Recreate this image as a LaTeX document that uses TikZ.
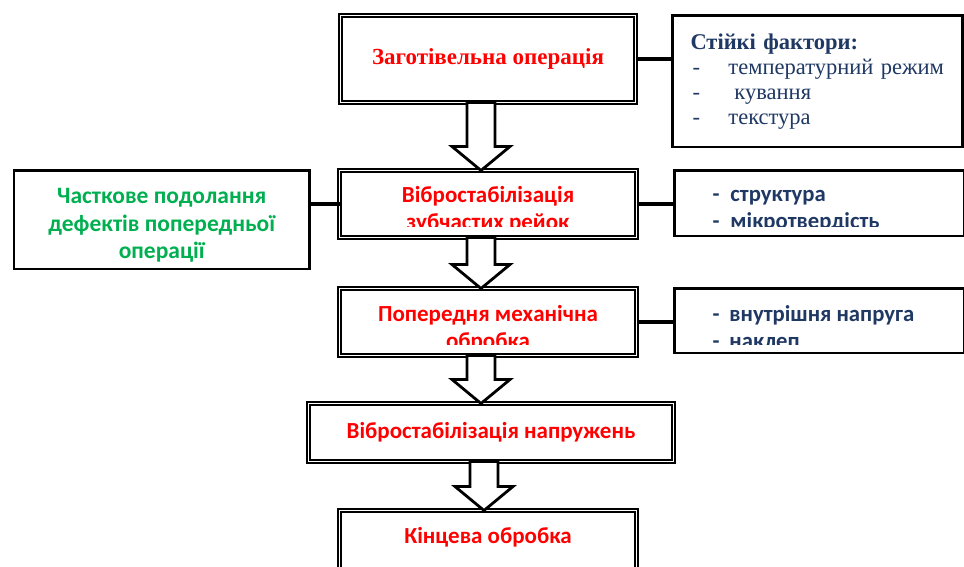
\documentclass[tikz,border=0pt]{standalone}
\usepackage{fontspec}
\usepackage{xcolor}
\usepackage{tikz}
\usetikzlibrary{positioning, calc}
\newfontfamily\serifbody{Liberation Serif}
\newfontfamily\sansbody{Carlito}
\definecolor{opred}{HTML}{FF0000}
\definecolor{factblue}{HTML}{1F3864}
\definecolor{fixgreen}{HTML}{00B050}

\begin{document}
\begin{tikzpicture}[
        x=1pt, y=1pt,
        every node/.style={align=center, outer sep=0pt},
        opbox/.style={
            rectangle, draw=black, double, double distance=1.8pt,
            line width=1.6pt, fill=white,
            minimum width=297pt, minimum height=67pt
        },
        sidebox/.style={
            rectangle, draw=black, line width=2.5pt, fill=white,
            minimum width=290pt
        },
        optext/.style={text=opred, font=\sansbody\bfseries\fontsize{23}{27}\selectfont},
        facttext/.style={
            text=factblue, inner sep=0pt, align=left,
            font=\sansbody\bfseries\fontsize{22.7}{27}\selectfont
        },
        link/.style={line width=3.5pt},
        blockarr/.style={
            draw=black, line width=2.8pt, fill=white, line join=miter,
            to path={($(\tikztostart -| \tikztotarget)+(-21,0)$) -- ($(\tikztotarget)+(-21,24)$)
                -- ($(\tikztotarget)+(-36,24)$) -- ($(\tikztotarget)+(-7,0)$)
                -- ($(\tikztotarget)+(22,24)$) -- ($(\tikztotarget)+(7,24)$)
                -- ($(\tikztostart -| \tikztotarget)+(7,0)$) -- cycle}
        },
    ]

    \useasboundingbox (0,0) rectangle (964,567);
    \clip (0,0) rectangle (964,567);

    % main column
    \node (zag)   [opbox, minimum width=295pt, minimum height=87pt, text=opred,
                   font=\serifbody\bfseries\fontsize{23}{25}\selectfont] at (488,508)
                  {Заготівельна операція};
    \node (vibro) [opbox, below=68pt of zag] {};
    \node (mech)  [opbox, below=51pt of vibro] {};
    \node (stab)  [opbox, optext, minimum width=365pt, minimum height=58pt,
                   below=48pt of mech, xshift=3pt] {Вібростабілізація напружень};
    \node (fin)   [opbox, below=49pt of stab, xshift=-3pt] {};
    \node (fintxt) [optext] at ($(fin.north)+(0,-26.5)$) {Кінцева обробка};

    % side boxes
    \node (fac1)  [sidebox, minimum height=131.5pt, text width=254pt, inner xsep=18pt,
                   align=left, text=factblue, font=\serifbody\fontsize{22.5}{25}\selectfont,
                   right=37pt of zag.north east, anchor=north west]
                  {{\bfseries Стійкі фактори:}\\
                   \hspace*{2pt}\makebox[36pt][l]{-}температурний режим\\
                   \hspace*{2pt}\makebox[42pt][l]{-}кування\\
                   \hspace*{2pt}\makebox[36pt][l]{-}текстура};
    \node (fac2)  [sidebox, minimum height=65.5pt,
                   right=38pt of vibro.north east, anchor=north west] {};
    \node (fac3)  [sidebox, minimum height=64.5pt,
                   right=38pt of mech.north east, anchor=north west] {};
    \node (defect) [sidebox, minimum width=295.5pt, minimum height=98.5pt,
                   left=30pt of vibro.north west, anchor=north east] {};
    \node (defecttxt) [text=fixgreen, font=\sansbody\bfseries\fontsize{23.5}{27.5}\selectfont]
                  at ($(defect.center)+(0,-6)$)
                  {Часткове подолання\\дефектів попередньої\\операції};

    % texts cut by the box rows
    \begin{scope}
        \clip (0,340.5) rectangle (964,420);
        \node (vibrotxt) [optext] at ($(vibro.center)+(0,-5.5)$) {Вібростабілізація\\зубчастих рейок};
        \node (fac2txt) [facttext, anchor=west] at ($(fac2.west)+(38,-7.5)$)
                  {\makebox[18pt][l]{-}структура\\\makebox[18pt][l]{-}мікротвердість};
    \end{scope}
    \begin{scope}
        \clip (0,222.5) rectangle (964,300);
        \node (mechtxt) [optext] at ($(mech.center)+(0,-6.5)$) {Попередня механічна\\обробка};
        \node (fac3txt) [facttext, anchor=west] at ($(fac3.west)+(38,-6)$)
                  {\makebox[17pt][l]{-}внутрішня напруга\\\makebox[17pt][l]{-}наклеп};
    \end{scope}

    \draw [link] (zag.east)   -- (zag.east -| fac1.west);
    \draw [link] (vibro.east) -- (vibro.east -| fac2.west);
    \draw [link] (vibro.west) -- (vibro.west -| defect.east);
    \draw [link] (mech.east)  -- (mech.east -| fac3.west);

    \draw [blockarr] (zag.south)   to (vibro.north);
    \draw [blockarr] (vibro.south) to (mech.north);
    \draw [blockarr] (mech.south)  to ([xshift=-3pt]stab.north);
    \draw [blockarr] (stab.south)  to ([xshift=3pt]fin.north);

\end{tikzpicture}
\end{document}
